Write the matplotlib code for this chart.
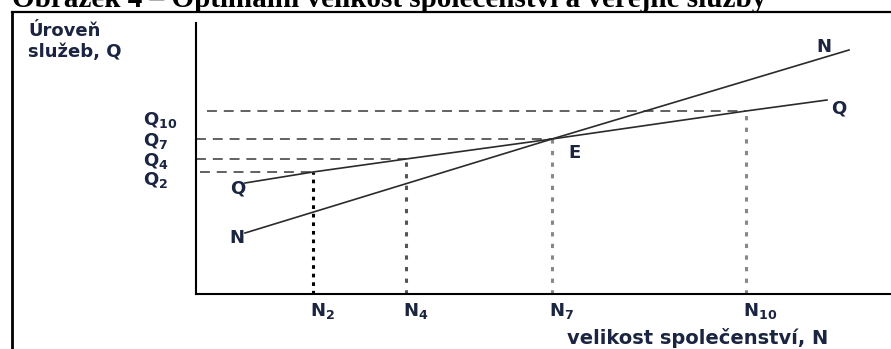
"""
# Optimal community size vs. public service level (schematic)
"""

import matplotlib
matplotlib.use('Agg')
import matplotlib.pyplot as plt
from matplotlib.lines import Line2D

## Data (axis units, origin at the axes corner)
n_names= ['N_2','N_4','N_7','N_{10}']
n_vals= [117, 210, 356, 550]          ## community size positions
q_names= ['Q_2','Q_4','Q_7','Q_{10}']
q_vals= [122, 135, 155, 183]          ## service level at those sizes
q_dash_start= [4, 0, 0, 11]

q_curve_x= [49, 117, 210, 356, 550, 631]   ## Q curve
q_curve_y= [111, 122, 135, 155, 183, 194]
n_line_x= [49, 356, 653]                   ## N line
n_line_y= [61, 155, 244]

title= 'Obrázek 4 – Optimální velikost společenství a veřejné služby'
ylab= ['Úroveň','služeb, Q']
xlab= 'velikost společenství, N'

def main():
    W,H= 891,349
    fig= plt.figure(figsize=(W/100,H/100),dpi=100)
    plt.rcParams['mathtext.fontset']= 'dejavusans'

    tc= '#1b2440'   ## text colour
    lc= '#2b2b2b'   ## line colour
    fs= 13

    ### Frame and title
    fx= lambda px: px/W
    fy= lambda py: 1-py/H
    fig.add_artist(Line2D([fx(12),1],[fy(12),fy(12)],color='k',lw=1.6,transform=fig.transFigure))
    fig.add_artist(Line2D([fx(12),fx(12)],[fy(12),0],color='k',lw=2.0,transform=fig.transFigure))
    fig.text(fx(12),fy(7),title,ha='left',va='baseline',fontsize=21,
             family='Liberation Serif',weight='bold',color='k')

    ### Axes
    ax= fig.add_axes([fx(196),fy(294),fx(W-196),(294-23)/H])
    ax.set_xlim(0,W-196)
    ax.set_ylim(0,294-23)
    for s in ['top','right']:
        ax.spines[s].set_visible(False)
    for s in ['left','bottom']:
        ax.spines[s].set_linewidth(1.5)
        ax.spines[s].set_color('k')
    ax.set_xticks([]); ax.set_yticks([])
    ax.patch.set_alpha(0)

    ### Guide lines
    dcol= ['k','#555555','#888888','#888888']
    dper= [(1.2,1.6),(1.4,2.4),(1.4,2.4),(1.4,2.4)]
    for xn,yq,x0,c,d in zip(n_vals,q_vals,q_dash_start,dcol,dper):
        ax.plot([x0,xn],[yq,yq],color='#555555',lw=1.3,ls=(0,(5.5,3.8)),clip_on=False)
        ax.plot([xn,xn],[0,yq],color=c,lw=2.2,ls=(0,d),dash_capstyle='butt',clip_on=False)

    ### Curves
    ax.plot(q_curve_x,q_curve_y,color=lc,lw=1.2,clip_on=False)
    ax.plot(n_line_x,n_line_y,color=lc,lw=1.2,clip_on=False)

    props= dict(color=tc,fontsize=fs,weight='bold',family='DejaVu Sans')
    ### Q level labels
    q_lab_y= [114, 133, 153, 174]
    for nm,yy in zip(q_names,q_lab_y):
        ax.text(-53,yy,r'$\mathbf{%s}$'%nm,ha='left',va='center',clip_on=False,**props)
    ### N labels on x axis
    for nm,xx in zip(n_names,n_vals):
        ax.text(xx-3,-17,r'$\mathbf{%s}$'%nm,ha='left',va='center',clip_on=False,**props)

    ### Curve labels
    ax.text(42,105,'Q',ha='center',va='center',**props)
    ax.text(41,56,'N',ha='center',va='center',**props)
    ax.text(379,141,'E',ha='center',va='center',**props)
    ax.text(628,247,'N',ha='center',va='center',clip_on=False,**props)
    ax.text(643,186,'Q',ha='center',va='center',clip_on=False,**props)

    ### Axis titles
    for txt,yb in zip(ylab,[36,57]):
        fig.text(fx(28),fy(yb),txt,ha='left',va='baseline',**props)
    props['fontsize']= 14
    fig.text(fx(698),fy(338),xlab,ha='center',va='center',**props)

    plt.savefig('out.png',dpi=100)
    return

if __name__=='__main__':
    main()
